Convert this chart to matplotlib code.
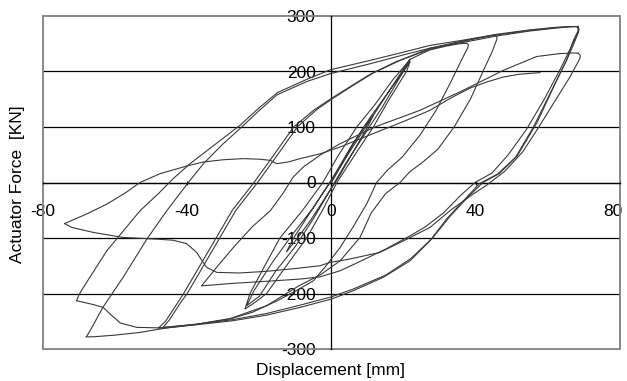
import numpy as np
import matplotlib
matplotlib.use("Agg")
import matplotlib.pyplot as plt
from matplotlib.patches import Rectangle
from matplotlib.transforms import ScaledTranslation

plt.rcParams['font.family'] = ['Liberation Sans', 'DejaVu Sans']
plt.rcParams['axes.unicode_minus'] = False

# (displacement mm, force kN) pairs, branch by branch
elastic = [(0, 0), (3, 35), (6, 70), (9, 100), (11.5, 120), (10, 100), (6, 55), (2, 10),
           (-2, -30), (-6, -70), (-10, -105), (-12.5, -125), (-10.5, -100), (-7, -65),
           (-3, -25), (0.5, 8), (5, 55), (9, 95), (12.5, 130), (16, 165), (19.5, 200),
           (21.8, 222), (20, 208), (17, 185), (12, 140), (7, 100), (2, 50), (-2.4, 0),
           (-8, -50), (-14.3, -100), (-18.5, -150), (-22.6, -200), (-24, -228),
           (-21, -215), (-18, -200), (-12.5, -150), (-6.9, -100), (-2.5, -50), (1.5, 0),
           (6.5, 50), (11.6, 100), (16, 150), (20.8, 200), (21.8, 218), (20.5, 205),
           (16, 165), (10.5, 115), (5, 60), (0, 5), (-5, -45), (-11, -95), (-16.5, -145),
           (-21.5, -195), (-23.5, -222), (-20, -205), (-15.5, -160), (-10, -115),
           (-5, -65), (-0.5, -15), (4, 35), (9, 85), (14, 135), (19, 190), (21.8, 222),
           (27.3, 239), (32, 246), (35.5, 250), (37.5, 251)]

unload_40a = [(37.5, 251), (38, 248), (37.8, 243), (36, 220), (33, 180), (29, 130),
              (24.5, 85), (19.5, 45), (15.5, 22), (12.5, 0), (9.8, -38), (6, -80),
              (2.4, -117), (-1.5, -150), (-5, -177), (-9, -192), (-15, -213), (-22, -234),
              (-28.2, -246), (-38, -256), (-45, -260), (-48, -262)]
load_40a = [(-48, -262), (-47.3, -258), (-46, -250), (-43, -220), (-41, -200),
            (-36.5, -150), (-32, -100), (-27.5, -50), (-21.5, 0), (-16.5, 45),
            (-10.5, 100), (-5, 130), (-0.4, 150), (5, 172), (10.7, 195), (18, 218),
            (27.3, 240), (37, 255), (42, 262), (45.3, 266)]
unload_40b = [(45.3, 266), (45.9, 263), (45.8, 257), (44.5, 235), (42, 200), (38.5, 150),
              (34, 100), (29.5, 60), (25, 35), (21.8, 20), (19, 0), (15, -20), (11, -55),
              (7.9, -99), (2.4, -141), (-3, -166), (-9, -186), (-18, -222), (-28, -245),
              (-38, -256), (-47, -263)]
load_40b = [(-47, -263), (-46.3, -258), (-45, -248), (-42, -218), (-40, -200),
            (-35.5, -150), (-31, -100), (-26.5, -50), (-20.5, 0), (-15.5, 45),
            (-9.5, 100), (-4, 132), (0.5, 152), (6, 175), (11.5, 197), (19, 220),
            (27.3, 242), (37, 256), (45.8, 266), (55, 274), (62, 279), (66.5, 281),
            (68, 281)]

unload_70a = [(68, 281), (68.4, 277), (68.3, 272), (67, 255), (65.2, 220), (61.5, 172),
              (56, 100), (51, 45), (46, 15), (41, -2), (37, -30), (32, -65), (27.3, -105),
              (21.8, -141), (14.3, -171), (6, -195), (0, -210), (-8.7, -225), (-18, -239),
              (-27.3, -249), (-37, -256), (-45.7, -262), (-53, -270), (-60, -275),
              (-66, -278), (-68, -278)]
load_70a = [(-68, -278), (-67.4, -272), (-66.5, -262), (-63.4, -225), (-57.8, -171),
            (-51.2, -102), (-45.7, -51), (-39.7, 0), (-35.5, 34), (-30, 70), (-25.4, 97),
            (-20, 130), (-15.1, 158), (-6.8, 182), (-0.4, 196), (10.7, 214), (20, 230),
            (27.3, 242), (37, 253), (45.8, 264), (55, 273), (62, 278), (66, 280.5),
            (68.2, 281)]
unload_70b = [(68.2, 281), (68.6, 276), (68.5, 271), (67.2, 250), (65.5, 225), (62, 178),
              (57, 108), (51.5, 48), (46.5, 16), (42, 0), (38, -25), (33, -60), (28, -100),
              (22, -137), (15, -167), (6, -192), (0, -206), (-8.7, -221), (-18, -236),
              (-27.3, -247), (-37, -255), (-47.6, -262), (-54, -261), (-58.6, -253),
              (-61.4, -237), (-63.3, -225), (-66, -220), (-70.7, -213)]
load_70b = [(-70.7, -213), (-70, -202), (-68.8, -189), (-62.3, -123), (-57.7, -87),
            (-53.1, -51), (-48, -20), (-43.9, 7), (-39.2, 34), (-32, 70), (-25.4, 103),
            (-20, 135), (-15, 162), (-6.8, 186), (-0.4, 203), (10.7, 220), (20, 235),
            (27.3, 247), (37, 257), (45.8, 267), (55, 275), (62, 279.5), (66.5, 281),
            (68.4, 281)]
unload_70c = [(68.4, 281), (68.6, 276), (68.3, 270), (66.5, 245), (63.5, 205), (59, 150),
              (54, 95), (49, 50), (44.5, 17), (39.8, 0), (36, -22), (31, -55), (26, -80),
              (21.8, -96), (15, -120), (8, -142), (2.4, -159), (-3.2, -170), (-8.7, -174),
              (-18, -178), (-28, -182), (-33.5, -185), (-36, -186)]
load_70c = [(-36, -186), (-34, -170), (-31.5, -150), (-27.2, -117), (-22, -80),
            (-17, -51), (-13.5, -20), (-10.6, 10), (-7.8, 28), (-3, 50), (2.4, 70),
            (12, 100), (24.5, 130), (36.5, 166), (47.6, 202), (56.9, 227), (63, 232),
            (67, 233.5), (68.4, 233)]
unload_70d = [(68.4, 233), (69, 229), (68.9, 224), (68.2, 215), (66.1, 190), (61.5, 142),
              (57.5, 100), (53, 55), (48, 20), (43, -5), (39, -22), (33, -50), (27.3, -81),
              (20, -105), (13.4, -126), (5, -138), (-0.4, -144), (-3.2, -150), (-10, -155),
              (-18, -160), (-25.4, -163), (-31.8, -162), (-34.6, -153), (-36, -140),
              (-37.4, -126), (-40.2, -110), (-44, -104), (-48.5, -102), (-57.8, -99),
              (-66, -90), (-72, -81), (-74, -74)]
load_final = [(-74, -74), (-68, -57), (-62.3, -39), (-57, -18), (-53.1, 0), (-47.5, 16),
              (-40, 30), (-35.5, 37), (-30, 41), (-24.5, 43), (-20, 42), (-17, 40),
              (-15.2, 34), (-12, 37), (-8.7, 43), (-3, 52), (2.4, 64), (11.5, 88),
              (20, 110), (27.3, 130), (33, 152), (38.4, 170), (43, 181), (47.6, 190),
              (52, 195), (57.8, 198)]

branches = [elastic, unload_40a, load_40a, unload_40b, load_40b, unload_70a, load_70a,
            unload_70b, load_70b, unload_70c, load_70c, unload_70d, load_final]

x_ticks = [-80, -40, 0, 40, 80]
y_ticks = [-300, -200, -100, 0, 100, 200, 300]

fig = plt.figure(figsize=(6.27, 3.81), dpi=100)
ax = fig.add_axes([43 / 627, 1 - 349 / 381, 577 / 627, 333 / 381])
ax.set_xlim(-80, 80)
ax.set_ylim(-300, 300)

for y in y_ticks[1:-1]:
    ax.axhline(y, color='black', lw=0.9, zorder=1)

for br in branches:
    pts = np.array(br)
    ax.plot(pts[:, 0], pts[:, 1], color='#3a3a3a', lw=0.8, zorder=3)

# axes cross through the origin, grey frame round the plot
ax.spines['left'].set_position(('data', 0))
ax.spines['bottom'].set_position(('data', 0))
ax.spines['top'].set_visible(False)
ax.spines['right'].set_visible(False)
for s in ['left', 'bottom']:
    ax.spines[s].set_color('black')
    ax.spines[s].set_linewidth(0.9)
ax.add_patch(Rectangle((0, 0), 1, 1, transform=ax.transAxes, fill=False,
                       edgecolor='#808080', lw=1.3, clip_on=False, zorder=2))

ax.set_xticks(x_ticks)
ax.set_yticks(y_ticks)
ax.tick_params(axis='x', direction='inout', length=3, width=0.8, pad=14, labelsize=12.5)
ax.tick_params(axis='y', direction='inout', length=3, width=0.8, pad=10, labelsize=12.5)

# last x label sits on the right edge, nudge it in so it is not cut
last = ax.get_xticklabels()[-1]
last.set_transform(last.get_transform() + ScaledTranslation(-5 / 72, 0, fig.dpi_scale_trans))

fig.text(331 / 627, 1 - 371 / 381, 'Displacement [mm]', ha='center', va='center', fontsize=12.5)
fig.text(18 / 627, 1 - 184 / 381, 'Actuator Force  [KN]', ha='center', va='center',
         rotation=90, fontsize=12.5)

fig.savefig('out.png', dpi=100)
